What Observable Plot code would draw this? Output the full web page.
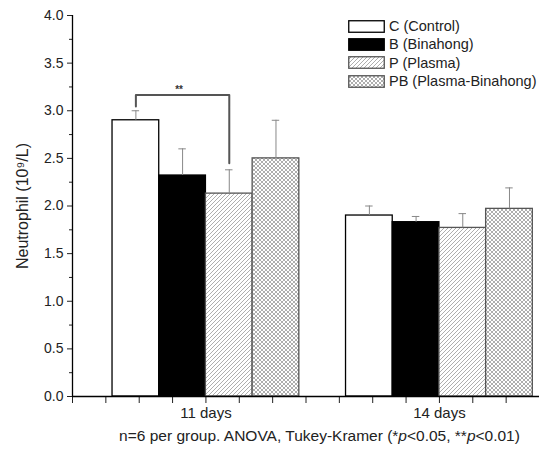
<!DOCTYPE html>
<html><head><meta charset="utf-8">
<script src="https://cdn.jsdelivr.net/npm/d3@7"></script>
<script src="https://cdn.jsdelivr.net/npm/@observablehq/plot@0.6"></script>
<style>
body{margin:0;background:#fff;font-family:"Liberation Sans",Arial,sans-serif;}
#wrap{position:relative;width:539px;height:452px;overflow:hidden;}
#legend{position:absolute;left:348px;top:17px;font-size:14.5px;color:#222;}
.row{display:flex;align-items:center;height:18.3px;white-space:nowrap;}
.row svg{margin-right:3px;display:block}
#caption{position:absolute;left:0;top:427px;width:539px;padding-left:100px;box-sizing:border-box;text-align:center;font-size:15.5px;color:#222;white-space:nowrap;}
</style></head>
<body><div id="wrap"><div id="chart"></div><div id="legend"></div><div id="caption">n=6 per group. ANOVA, Tukey-Kramer (*<i>p</i>&lt;0.05, **<i>p</i>&lt;0.01)</div></div>
<script>
const groups = ["11 days", "14 days"];
const series = ["C (Control)", "B (Binahong)", "P (Plasma)", "PB (Plasma-Binahong)"];
const means11 = [2.90, 2.32, 2.13, 2.50];
const errs11 = [0.10, 0.28, 0.25, 0.40];
const means14 = [1.90, 1.83, 1.77, 1.97];
const errs14 = [0.10, 0.06, 0.15, 0.22];
const yTicks = [0, 0.5, 1.0, 1.5, 2.0, 2.5, 3.0, 3.5, 4.0];
const bracketY = [3.045, 3.165, 3.165, 2.45]; // C vs P at 11 days
const bracketLabel = "**";

const fills = ["white", "black", "url(#hatch)", "url(#cross)"];
const strokes = ["black", "black", "#555", "#555"];

const barW = 0.2;
const xmin = 1 - 4/7, xmax = 2 + 3/7;
const rows = [];
[[means11, errs11], [means14, errs14]].forEach(([m, e], gi) => {
  m.forEach((v, si) => rows.push({g: gi + 1, s: si, mean: v, err: e[si], xc: gi + 1 + (si - 1.5) * barW}));
});
const xc = (g, s) => g + (s - 1.5) * barW;
const bx = [xc(1,0), xc(1,0), xc(1,2), xc(1,2)];
const bracket = bracketY.map((y, i) => ({x: bx[i], y}));
const minorY = d3.range(0.25, 4, 0.5);
const minorX = d3.range(0, 15).map(i => xmin + i / 7).filter(v => Math.abs(v - 1) > 1e-6 && Math.abs(v - 2) > 1e-6);

const chart = Plot.plot({
  width: 539, height: 424,
  marginLeft: 72, marginRight: 0, marginTop: 15, marginBottom: 28,
  style: {fontFamily: "Liberation Sans, Arial, sans-serif", color: "#222", background: "white"},
  x: {type: "linear", domain: [xmin, xmax]},
  y: {domain: [0, 4]},
  color: {type: "identity"},
  marks: [
    Plot.rect(rows, {x1: d => d.xc - barW/2, x2: d => d.xc + barW/2, y1: 0, y2: "mean", fill: d => fills[d.s], stroke: d => strokes[d.s], strokeWidth: 1.3}),
    Plot.ruleX(rows, {x: "xc", y1: "mean", y2: d => d.mean + d.err, stroke: "#888", strokeWidth: 1}),
    Plot.ruleY(rows, {y: d => d.mean + d.err, x1: d => d.xc - 0.016, x2: d => d.xc + 0.016, stroke: "#888", strokeWidth: 1}),
    Plot.line(bracket, {x: "x", y: "y", stroke: "#555", strokeWidth: 2}),
    Plot.text([bracketLabel], {x: (bx[0] + bx[2]) / 2 - 0.015, y: bracketY[1], text: d => d, dy: -5, fontSize: 10, fontWeight: "bold", fill: "#333"}),
    Plot.axisY(yTicks, {tickFormat: d3.format(".1f"), tickSize: 5, fontSize: 14, tickPadding: 4, label: "Neutrophil (10⁹/L)", labelAnchor: "center", labelArrow: "none", labelOffset: 56}),
    Plot.axisY(minorY, {tickSize: 3, tickFormat: () => "", label: null}),
    Plot.axisX([1, 2], {tickFormat: d => groups[d - 1], tickSize: 7, tickPadding: 4, fontSize: 15, label: null}),
    Plot.axisX(minorX, {tickSize: 7, tickFormat: () => "", label: null}),
    Plot.ruleY([0], {stroke: "black", strokeWidth: 1.3}),
    Plot.ruleX([xmin], {stroke: "black", strokeWidth: 1.3})
  ]
});
d3.select(chart).selectAll("g[aria-label='y-axis label'] text, g[aria-label='y-axis label']").attr("font-size", 16);
const defs = d3.select(chart).insert("defs", ":first-child");
const h = defs.append("pattern").attr("id", "hatch").attr("patternUnits", "userSpaceOnUse").attr("width", 4).attr("height", 4);
h.append("rect").attr("width", 4).attr("height", 4).attr("fill", "white");
h.append("path").attr("d", "M-1,1 l2,-2 M0,4 l4,-4 M3,5 l2,-2").attr("stroke", "#999").attr("stroke-width", 0.8);
const c = defs.append("pattern").attr("id", "cross").attr("patternUnits", "userSpaceOnUse").attr("width", 4).attr("height", 4);
c.append("rect").attr("width", 4).attr("height", 4).attr("fill", "white");
c.append("path").attr("d", "M-1,1 l2,-2 M0,4 l4,-4 M3,5 l2,-2 M-1,3 l2,2 M0,0 l4,4 M3,-1 l2,2").attr("stroke", "#999").attr("stroke-width", 0.8);
document.getElementById("chart").append(chart);

const legend = d3.select("#legend");
series.forEach((s, i) => {
  const r = legend.append("div").attr("class", "row");
  const sv = r.append("svg").attr("width", 38).attr("height", 13);
  sv.append("rect").attr("x", 0.75).attr("y", 0.75).attr("width", 35.5).attr("height", 11.5)
    .attr("fill", fills[i]).attr("stroke", strokes[i]).attr("stroke-width", 1.3);
  r.append("span").text(s);
});
</script></body></html>
